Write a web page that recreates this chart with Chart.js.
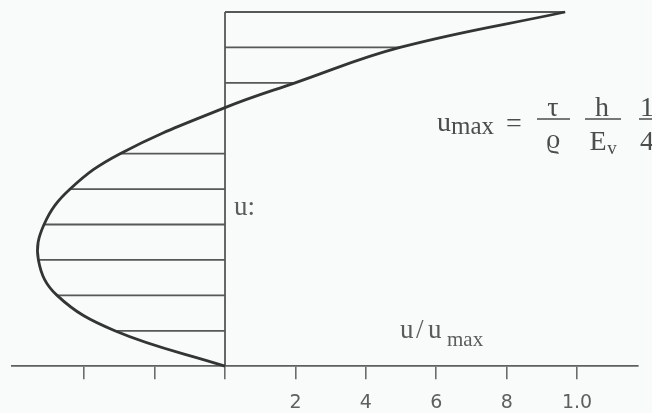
<!DOCTYPE html>
<html>
<head>
<meta charset="utf-8">
<script src="https://cdn.jsdelivr.net/npm/chart.js@4/dist/chart.umd.min.js"></script>
<style>
  html, body { margin: 0; padding: 0; background: #f8fbfa; overflow: hidden; }
  #wrap { width: 652px; height: 413px; overflow: hidden; }
</style>
</head>
<body>
<div id="wrap"><canvas id="c" width="652" height="426"></canvas></div>
<script>
// Relative depth z/h (0 = bottom, 1 = surface) and velocity u/u_max along the profile
const depthLevels = [0.0, 0.1, 0.2, 0.3, 0.4, 0.5, 0.6, 0.73, 0.8, 0.9, 1.0];
const velocities  = [0.0, -0.313, -0.477, -0.530, -0.514, -0.44, -0.298, 0.0, 0.199, 0.497, 0.966];

// Levels at which horizontal velocity arrows (hatching) are drawn
const hatchLevels = [0.1, 0.2, 0.3, 0.4, 0.5, 0.6, 0.8, 0.9, 1.0];

// Axis ticks and their labels
const tickValues = [-0.4, -0.2, 0.0, 0.2, 0.4, 0.6, 0.8, 1.0];
const tickLabels = ['', '', '', '2', '4', '6', '8', '1.0'];

const profile = depthLevels.map((z, i) => ({ x: velocities[i], y: z }));
const velocityAt = z => velocities[depthLevels.indexOf(z)];

const hatchSets = hatchLevels.map(z => ({
  data: [{ x: 0, y: z }, { x: velocityAt(z), y: z }],
  showLine: true,
  borderColor: '#555857',
  borderWidth: 1.8,
  pointRadius: 0,
  order: 2
}));

// Text annotations: formula, labels
const textPlugin = {
  id: 'annotations',
  afterDraw(chart) {
    const ctx = chart.ctx;
    ctx.save();
    ctx.textBaseline = 'alphabetic';
    ctx.textAlign = 'left';
    const serif = '"Liberation Serif", "DejaVu Serif", serif';

    // "u:" next to the zero line
    ctx.fillStyle = '#5a5d5c';
    ctx.font = '27px ' + serif;
    ctx.fillText('u:', 234, 215);

    // axis quantity u/u_max
    ctx.font = '27px ' + serif;
    ctx.fillText('u', 400, 338);
    ctx.fillText('/', 416, 338);
    ctx.fillText('u', 428, 338);
    ctx.font = '21px ' + serif;
    ctx.fillText('max', 447, 346);

    // u_max = tau/rho * h/E_v * 1/4
    ctx.fillStyle = '#4a4d4c';
    ctx.font = '28px ' + serif;
    ctx.fillText('u', 437, 131);
    ctx.font = '25px ' + serif;
    ctx.fillText('max', 451, 134);
    ctx.font = '28px ' + serif;
    ctx.fillText('=', 506, 132);

    ctx.textAlign = 'center';
    ctx.fillText('\u03C4', 553, 116);
    ctx.fillText('\u03F1', 553, 148);
    ctx.fillText('h', 602, 116);
    ctx.fillText('E', 598, 150);
    ctx.font = '19px ' + serif;
    ctx.fillText('v', 612, 154);
    ctx.font = '28px ' + serif;
    ctx.fillText('1', 647, 116);
    ctx.fillText('4', 647, 150);

    ctx.strokeStyle = '#4a4d4c';
    ctx.lineWidth = 1.4;
    ctx.beginPath();
    ctx.moveTo(537, 119); ctx.lineTo(570, 119);
    ctx.moveTo(585, 119); ctx.lineTo(621, 119);
    ctx.moveTo(639, 119); ctx.lineTo(655, 119);
    ctx.stroke();
    ctx.restore();
  }
};

new Chart(document.getElementById('c'), {
  type: 'scatter',
  data: {
    datasets: [
      {
        data: profile,
        showLine: true,
        tension: 0.4,
        borderColor: '#323534',
        borderWidth: 2.8,
        pointRadius: 0,
        order: 0
      },
      {
        data: [{ x: 0, y: 0 }, { x: 0, y: 1 }],
        showLine: true,
        borderColor: '#555857',
        borderWidth: 1.8,
        pointRadius: 0,
        order: 1
      },
      ...hatchSets
    ]
  },
  options: {
    responsive: false,
    animation: false,
    clip: false,
    layout: { padding: { left: 12, right: 14, top: 12, bottom: 0 } },
    plugins: { legend: { display: false }, tooltip: { enabled: false } },
    scales: {
      x: {
        type: 'linear',
        min: -0.605,
        max: 1.173,
        border: { display: true, color: '#5d605f', width: 1.7 },
        grid: {
          display: true,
          drawOnChartArea: false,
          drawTicks: true,
          tickLength: 13,
          color: '#6a6d6c',
          lineWidth: 1.6
        },
        afterBuildTicks(scale) {
          scale.ticks = tickValues.map(v => ({ value: v }));
        },
        ticks: {
          padding: 12,
          maxRotation: 0,
          autoSkip: false,
          color: '#5d605f',
          font: { family: '"DejaVu Sans", sans-serif', size: 19 },
          callback: (value, index) => tickLabels[index]
        }
      },
      y: {
        type: 'linear',
        min: 0,
        max: 1,
        display: false
      }
    }
  },
  plugins: [textPlugin]
});
</script>
</body>
</html>
